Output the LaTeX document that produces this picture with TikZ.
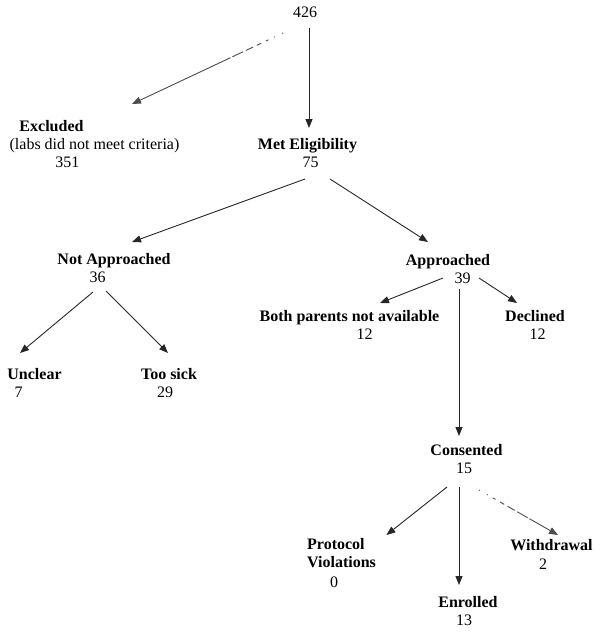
\documentclass[tikz,border=0pt]{standalone}
\usepackage{fontspec}
\setmainfont{Liberation Serif}
\usetikzlibrary{arrows.meta}
\tikzset{
  lbl/.style={inner sep=0pt, text height=11pt, text depth=3pt, font=\fontsize{16}{18}\selectfont\bfseries},
  num/.style={inner sep=0pt, text height=11pt, text depth=3pt, font=\fontsize{16}{18}\selectfont},
  arr/.style={draw=black!85, line width=0.9pt, -{Triangle[length=9pt,width=7pt]}},
  fadearr/.style={arr, draw=black!70, dash pattern=on 1pt off 8pt on 1pt off 6pt on 3pt off 5pt on 5pt off 4pt on 8pt off 3pt on 12pt off 2pt on 400pt}
}
\begin{document}
\begin{tikzpicture}[x=1pt,y=-1pt]
\useasboundingbox (0,0) rectangle (602,633);
% nodes
\node[num] (top) at (305,13) {426};
\node[lbl] (excl) at (51.5,127) {Excluded};
\node[num] (exclsub) at (94.5,145) {(labs did not meet criteria)};
\node[num] (excln) at (67.5,163) {351};
\node[lbl] (met) at (307.5,145) {Met Eligibility};
\node[num] (metn) at (310.5,163) {75};
\node[lbl] (na) at (114,260) {Not Approached};
\node[num] (nan) at (97.5,278) {36};
\node[lbl] (ap) at (448,261) {Approached};
\node[num] (apn) at (462.5,279) {39};
\node[lbl] (both) at (349.5,317) {Both parents not available};
\node[num] (bothn) at (364.5,335) {12};
\node[lbl] (dec) at (535,317) {Declined};
\node[num] (decn) at (537.5,335) {12};
\node[lbl] (uncl) at (34.5,375) {Unclear};
\node[num] (ucln) at (18.5,393) {7};
\node[lbl] (sick) at (169,375) {Too sick};
\node[num] (sickn) at (165,393) {29};
\node[lbl] (cons) at (466.5,451) {Consented};
\node[num] (consn) at (464,469) {15};
\node[lbl, anchor=west] (prot) at (307,545) {Protocol};
\node[lbl, anchor=west] (viol) at (307,563) {Violations};
\node[num] (protn) at (334,583) {0};
\node[lbl] (wd) at (551.5,546) {Withdrawal};
\node[num] (wdn) at (543,565) {2};
\node[lbl] (enr) at (468,603) {Enrolled};
\node[num] (enrn) at (464,621) {13};
% connectors
\draw[fadearr] ([shift={(-22,20)}]top.center) -- ([shift={(37.5,-41)}]exclsub.center);
\draw[arr] ([shift={(4,15)}]top.center) -- ([shift={(1.5,-17)}]met.center);
\draw[arr] ([shift={(-5.5,16)}]metn.center) -- ([shift={(18,-18)}]na.center);
\draw[arr] ([shift={(19.5,16)}]metn.center) -- ([shift={(-20,-19)}]ap.center);
\draw[arr] ([shift={(-4.5,14)}]nan.center) -- ([shift={(-14.5,-22)}]uncl.center);
\draw[arr] ([shift={(8.5,13)}]nan.center) -- ([shift={(-1,-22)}]sick.center);
\draw[arr] ([shift={(-19.5,-1)}]apn.center) -- ([shift={(30.5,-14)}]both.center);
\draw[arr] ([shift={(16.5,-1)}]apn.center) -- ([shift={(-18,-14)}]dec.center);
\draw[arr] ([shift={(-3.5,10)}]apn.center) -- ([shift={(-7.5,-15)}]cons.center);
\draw[arr] ([shift={(-17,18)}]consn.center) -- ([shift={(50.5,-10)}]prot.center);
\draw[arr] ([shift={(-5,18)}]consn.center) -- ([shift={(-9,-18)}]enr.center);
\draw[fadearr] ([shift={(15,21)}]consn.center) -- ([shift={(6.5,-11)}]wd.center);
\end{tikzpicture}
\end{document}
